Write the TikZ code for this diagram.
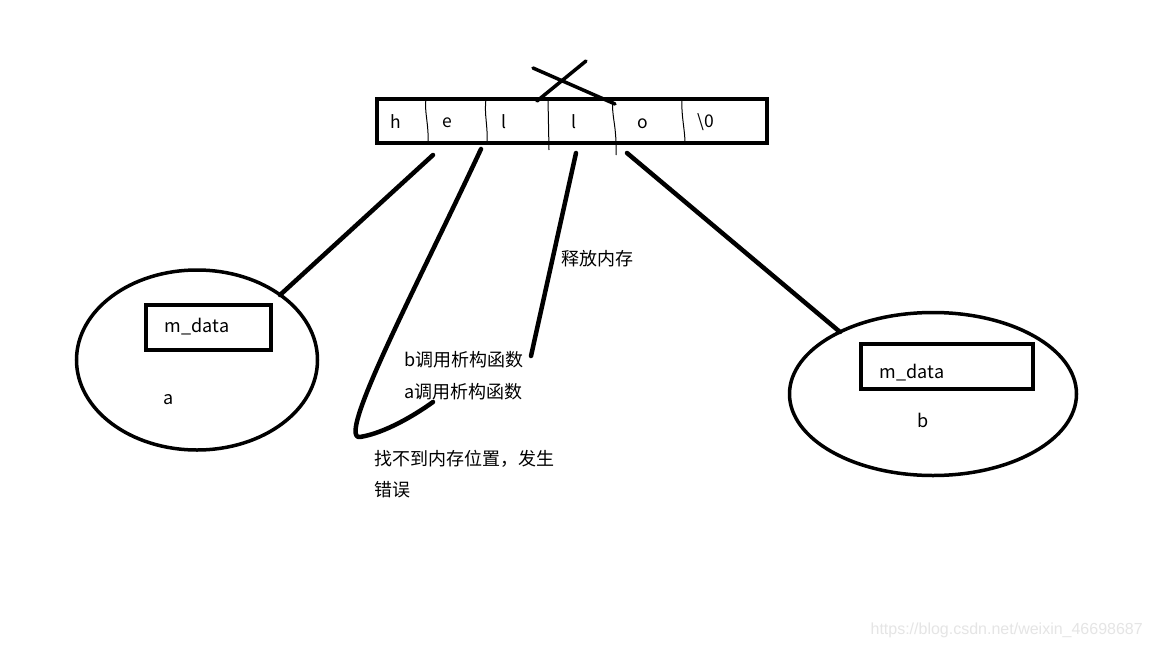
\documentclass[tikz,border=0pt]{standalone}
\usepackage{fontspec}
\setmainfont{Noto Sans CJK SC}
\newfontfamily\wmfont{Liberation Sans}
\usetikzlibrary{shapes.geometric}
\begin{document}
\begin{tikzpicture}[x=1pt,y=-1pt,
  heavy/.style={line width=4.5pt,line cap=round,line join=round},
  divider/.style={line width=1pt},
  boxed/.style={draw,line width=4pt,minimum width=#1,minimum height=45pt,inner sep=0pt},
  oval/.style={draw,ellipse,line width=3.5pt,inner sep=0pt},
  lbl/.style={font=\fontsize{18}{21}\selectfont,inner sep=0pt},
  cell/.style={font=\fontsize{17.5}{20}\selectfont,inner sep=0pt}]
\useasboundingbox (0,0) rectangle (1152,648);
\fill[white] (0,0) rectangle (1152,648);

% array
\node[draw,line width=4pt,minimum width=390pt,minimum height=44pt,inner sep=0pt] (arr) at (572,121) {};
\draw[divider] (426,99) .. controls (424,110) and (429,125) .. (428,143);
\draw[divider] (486,99) .. controls (484,115) and (488,125) .. (487,143);
\draw[divider] (548,99) -- (549,150);
\draw[divider] (613,101) .. controls (611,115) and (617,125) .. (616,155);
\draw[divider] (682,99) .. controls (681,115) and (685,130) .. (685,143);
\node[cell] (c1) at (396,122) {h};
\node[cell] (c2) at (447,123) {e};
\node[cell] (c3) at (504,122) {l};
\node[cell] (c4) at (574,122) {l};
\node[cell] (c5) at (643,124) {o};
\node[cell] (c6) at (706,122) {\textbackslash 0};

% cross
\coordinate (x1) at (533,68); \coordinate (x2) at (615,104);
\coordinate (x3) at (537,101); \coordinate (x4) at (586,61);
\draw[line width=3.5pt,line cap=round] (x1) -- (x2);
\draw[line width=3.5pt,line cap=round] (x3) -- (x4);

% object a
\node[oval,minimum width=241pt,minimum height=180pt] (ea) at (197,360) {};
\node[boxed=125pt] (ra) at (208,327.5) {};
\node[lbl] (ta) at (197,327) {m\_data};
\node[lbl] (na) at (169,400) {a};

% object b
\node[oval,minimum width=287pt,minimum height=163pt] (eb) at (933,394) {};
\node[boxed=172pt] (rb) at (947,366.5) {};
\node[lbl] (tb) at (912,373) {m\_data};
\node[lbl] (nb) at (923,420) {b};

% connectors
\coordinate (p1) at (433,155); \coordinate (q1) at (280,295);
\draw[heavy] (p1) -- (q1);
\coordinate (p2) at (481,149); \coordinate (q2) at (433,402);
\draw[heavy] (p2) .. controls (420,280) and (335,440) .. (360,437)
  .. controls (385,433) and (415,415) .. (q2);
\coordinate (p3) at (576,153); \coordinate (q3) at (531,356);
\draw[heavy] (p3) -- (q3);
\coordinate (p4) at (627,153); \coordinate (q4) at (840,332);
\draw[heavy] (p4) -- (q4);

% texts
\node[lbl,anchor=west] (t1) at (561,259) {释放内存};
\node[lbl,anchor=west] (t2) at (404,360) {b调用析构函数};
\node[lbl,anchor=west] (t3) at (404,392) {a调用析构函数};
\node[lbl,anchor=west] (t4) at (374,459) {找不到内存位置，发生};
\node[lbl,anchor=west] (t5) at (374,490) {错误};

\node[font=\wmfont\fontsize{16}{18}\selectfont,text=black!10,inner sep=0pt,anchor=east] (wm) at (1143,630) {https://blog.csdn.net/weixin\_46698687};
\end{tikzpicture}
\end{document}
